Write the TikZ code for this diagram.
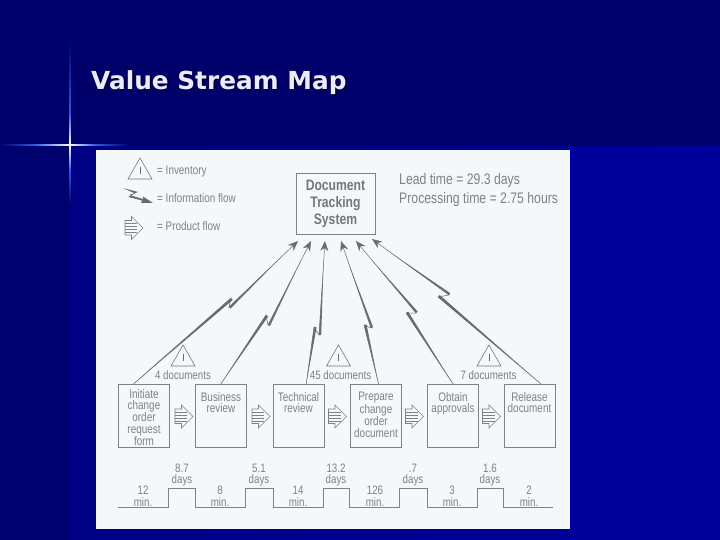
\documentclass[tikz,border=0pt]{standalone}
\usepackage{fontspec}
\usetikzlibrary{calc,arrows.meta}
\newfontfamily\narrowf[FakeStretch=0.8]{Liberation Sans}
\newfontfamily\titlef{DejaVu Sans}
\definecolor{navytop}{HTML}{00006A}
\definecolor{navyleft}{HTML}{00006E}
\definecolor{bluemid}{HTML}{000082}
\definecolor{blueright}{HTML}{00009C}
\definecolor{flare}{HTML}{2A5CE8}
\definecolor{paper}{HTML}{F5F8F8}
\definecolor{inkgray}{HTML}{7E8286}
\definecolor{darkgray}{HTML}{74787C}
\definecolor{boltgray}{HTML}{686C70}
\tikzset{
  x=1pt,y=-1pt,
  procbox/.style={draw=inkgray,line width=0.8pt,inner sep=0pt,text=inkgray,font=\narrowf\fontsize{12.4}{11.2}\selectfont},
  docbox/.style={draw=inkgray,line width=0.8pt,minimum width=79pt,minimum height=61pt,inner sep=0pt,align=center,text=darkgray,font=\narrowf\bfseries\fontsize{15.2}{17}\selectfont},
  legendtext/.style={anchor=west,text=inkgray,inner sep=0pt,font=\narrowf\fontsize{12.4}{13}\selectfont},
  infotext/.style={anchor=west,text=inkgray,inner sep=0pt,font=\narrowf\fontsize{15.3}{16}\selectfont},
  smalltext/.style={text=inkgray,inner sep=0pt,align=center,font=\narrowf\fontsize{12.2}{11.6}\selectfont},
  invtri/.style={draw=darkgray,line width=0.6pt,fill=paper,line join=miter},
  pflow/.style={draw=inkgray,line width=0.6pt,fill=paper},
  timeline/.style={draw=inkgray,line width=0.8pt},
  boltline/.style={draw=boltgray,line width=0.5pt,-{Stealth[length=10pt,width=8pt,fill=boltgray]}},
}
\newcommand{\proctext}[2]{\parbox[c][63.5pt][t]{51pt}{\centering\vspace*{#1}#2}}
\newcommand{\boltpath}[4]{%
  \draw[boltline] (#1) -- (#2) -- (#3) -- (#4);
  \fill[boltgray] (#1) -- (#2) -- ($(#2)!2.6pt!90:(#1)$) -- cycle;
  \fill[boltgray] (#3) -- ($(#3)!2.2pt!-90:(#4)$) -- ($(#3)!0.75!(#4)$) -- cycle;
}
\newcommand{\triinv}[2]{%
  \draw[invtri] (#1,#2) -- (#1-12,#2+21) -- (#1+12,#2+21) -- cycle;
  \draw[boltgray,line width=1pt] (#1,#2+9) -- (#1,#2+16);
}
\newcommand{\prodflow}[2]{%
  \draw[pflow] (#1,#2+4) -- (#1+6.5,#2+4) -- (#1+6.5,#2) -- (#1+18,#2+11.5) -- (#1+6.5,#2+23) -- (#1+6.5,#2+18.5) -- (#1,#2+18.5) -- cycle;
  \foreach \dy in {7,10,13,16}{\draw[inkgray,line width=0.4pt] (#1,#2+\dy) -- (#1+12,#2+\dy);}
}
\begin{document}
\begin{tikzpicture}
\useasboundingbox (0,0) rectangle (720,540);
% slide background
\fill[navytop] (0,0) rectangle (720,540);
\fill[navyleft] (0,147) rectangle (70,540);
\shade[left color=bluemid,right color=blueright] (70,147) rectangle (720,540);
\fill[blueright] (570,147) rectangle (720,540);
% flare
\shade[top color=navytop,bottom color=flare] (69.2,40) rectangle (70.8,115);
\shade[top color=flare,bottom color=white] (69.2,115) rectangle (70.8,145);
\shade[top color=white,bottom color=flare] (69.2,145) rectangle (70.8,170);
\shade[top color=flare,bottom color=navyleft] (69.2,170) rectangle (70.8,205);
\shade[left color=navyleft,right color=flare] (0,144.3) rectangle (35,145.9);
\shade[left color=flare,right color=white] (35,144.3) rectangle (70,145.9);
\shade[left color=white,right color=flare] (70,144.3) rectangle (95,145.9);
\shade[left color=flare,right color=navytop] (95,144.3) rectangle (130,145.9);
% title
\node[anchor=base west,inner sep=0pt,text=black!70!navytop,font=\titlef\bfseries\fontsize{24.8}{28}\selectfont] at (92.5,91) {Value Stream Map};
\node[anchor=base west,inner sep=0pt,text=white!92!blue,font=\titlef\bfseries\fontsize{24.8}{28}\selectfont] (title) at (91,90) {Value Stream Map};
% paper
\fill[paper] (96,150) rectangle (570,529);
% legend
\triinv{140}{158}
\node[legendtext] (leginv) at (157,171.5) {= Inventory};
\fill[boltgray] (123,188) -- (138,192) -- (129,195) -- (143,199) -- (143,196.5) -- (153,203) -- (141,203) -- (142,200.5) -- (128,197) -- (135,193.5) -- cycle;
\node[legendtext] (leginfo) at (157,198) {= Information flow};
\prodflow{125}{216.5}
\node[legendtext] (legprod) at (157,226) {= Product flow};
% info
\node[docbox] (doc) at (335.5,203.5) {\raisebox{-1pt}{Document}\\\raisebox{-1pt}{Tracking}\\\raisebox{-1pt}{System}};
\node[infotext] (lead) at (399,180.5) {Lead time = 29.3 days};
\node[infotext] (proc) at (399,200) {Processing time = 2.75 hours};
% process boxes
\node[procbox] (b1) at (144,416) {\proctext{5pt}{Initiate\\change\\order\\request\\form}};
\node[procbox] (b2) at (221,416) {\proctext{8pt}{Business\\review}};
\node[procbox] (b3) at (298.5,416) {\proctext{8pt}{Technical\\review}};
\node[procbox] (b4) at (376,416) {\proctext{8pt}{Prepare\\change\\order\\document}};
\node[procbox] (b5) at (453,416) {\proctext{8pt}{Obtain\\approvals}};
\node[procbox] (b6) at (529.5,416) {\proctext{8pt}{Release\\document}};
% connector anchors
\coordinate (s1) at ($(b1.north west)!0.3!(b1.north east)$);
\coordinate (s3) at ($(b3.north west)!0.65!(b3.north east)$);
\coordinate (s4) at ($(b4.north west)!0.55!(b4.north east)$);
\coordinate (s6) at ($(b6.north west)!0.72!(b6.north east)$);
\coordinate (t1) at (298,241); \coordinate (t2) at (311,241); \coordinate (t3) at (325,241);
\coordinate (t4) at (341,241); \coordinate (t5) at (356,241); \coordinate (t6) at (372,239);
\boltpath{s1}{231,298}{229,307}{t1}
\boltpath{b2.north}{266,315}{268,325}{t2}
\boltpath{s3}{314,327}{319,335}{t3}
\boltpath{s4}{364,325}{371,328}{t4}
\boltpath{b5.north}{406,313}{416,313}{t5}
\boltpath{s6}{438,297}{449,295}{t6}
% inventory triangles
\triinv{183}{345}
\triinv{338.5}{345}
\triinv{489}{345}
\node[smalltext] (d1) at (183,375) {4 documents};
\node[smalltext] (d2) at (340.5,375) {45 documents};
\node[smalltext] (d3) at (488.5,375) {7 documents};
% product flow arrows
\prodflow{175}{405}
\prodflow{252}{405}
\prodflow{328.5}{405}
\prodflow{405.5}{405}
\prodflow{482.5}{405}
% timeline
\draw[timeline] (118,507) -- (168,507) -- (168,488) -- (195,488) -- (195,507) -- (245,507) -- (245,488) -- (273,488) -- (273,507) -- (323,507) -- (323,488) -- (349,488) -- (349,507) -- (399,507) -- (399,488) -- (427,488) -- (427,507) -- (477,507) -- (477,488) -- (503,488) -- (503,507) -- (553,507);
\node[smalltext] (w1) at (182,475) {8.7\\days};
\node[smalltext] (w2) at (259,475) {5.1\\days};
\node[smalltext] (w3) at (336,475) {13.2\\days};
\node[smalltext] (w4) at (413,475) {.7\\days};
\node[smalltext] (w5) at (490,475) {1.6\\days};
\node[smalltext] (p1) at (143,496.5) {12\\min.};
\node[smalltext] (p2) at (220,496.5) {8\\min.};
\node[smalltext] (p3) at (298,496.5) {14\\min.};
\node[smalltext] (p4) at (375,496.5) {126\\min.};
\node[smalltext] (p5) at (452,496.5) {3\\min.};
\node[smalltext] (p6) at (529,496.5) {2\\min.};
\end{tikzpicture}
\end{document}
